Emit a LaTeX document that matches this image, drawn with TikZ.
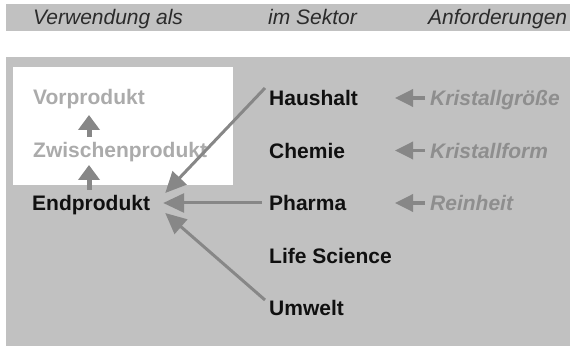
\documentclass[tikz,border=0pt]{standalone}
\usepackage{fontspec}
\setmainfont{Liberation Sans}
\usetikzlibrary{arrows.meta}
\definecolor{bggray}{HTML}{C1C1C1}
\definecolor{hdrtext}{HTML}{2B2B2B}
\definecolor{maintext}{HTML}{101010}
\definecolor{lighttext}{HTML}{ABABAB}
\definecolor{reqtext}{HTML}{8E8E8E}
\definecolor{arrowgray}{HTML}{878787}
\tikzset{
  lbl/.style={anchor=base west, inner sep=0pt, font=\fontsize{21}{24}\selectfont},
  hdr/.style={lbl, font=\fontsize{21}{24}\selectfont\itshape, text=hdrtext},
  sector/.style={lbl, font=\fontsize{21}{24}\selectfont\bfseries, text=maintext},
  stage/.style={lbl, font=\fontsize{21}{24}\selectfont\bfseries, text=lighttext},
  req/.style={lbl, font=\fontsize{21}{24}\selectfont\bfseries\itshape, text=reqtext},
  uparrow/.style={draw=arrowgray, line width=5pt, -{Triangle[width=21pt,length=15pt]}},
  sarrow/.style={draw=arrowgray, line width=3pt, -{Triangle[width=19pt,length=21pt]}},
  rarrow/.style={draw=arrowgray, line width=3.5pt, -{Triangle[width=17pt,length=18pt]}}
}
\begin{document}
\begin{tikzpicture}[x=1pt,y=-1pt]
\useasboundingbox (0,0) rectangle (570,347);
\fill[white] (0,0) rectangle (570,347);
% header band
\fill[bggray] (6,4) rectangle (570,31);
% main panel
\fill[bggray] (6,57) rectangle (570,346);
\fill[white] (13,67) rectangle (233,185);
% headers
\node[hdr] (h1) at (33,25) {Verwendung als};
\node[hdr] (h2) at (268,25) {im Sektor};
\node[hdr] (h3) at (428,25) {Anforderungen};
% stages
\node[stage] (vor) at (33,105) {Vorprodukt};
\node[stage] (zw) at (33,158) {Zwischenprodukt};
\node[sector] (endp) at (32,211) {Endprodukt};
% sectors
\node[sector] (haus) at (269,106) {Haushalt};
\node[sector] (chem) at (269,158.5) {Chemie};
\node[sector] (pharma) at (269,211) {Pharma};
\node[sector] (life) at (269,263.5) {Life Science};
\node[sector] (umw) at (269,316) {Umwelt};
% requirements
\node[req] (kg) at (430,106) {Kristallgröße};
\node[req] (kf) at (430,158.5) {Kristallform};
\node[req] (rein) at (430,211) {Reinheit};
% up arrows
\draw[uparrow] ([shift={(56,-21)}]zw.base west) -- ([shift={(56,10)}]vor.base west);
\draw[uparrow] ([shift={(57,-21)}]endp.base west) -- ([shift={(56,7)}]zw.base west);
% sector arrows
\draw[sarrow] ([shift={(-4,-18)}]haus.base west) -- ([shift={(15,-18)}]endp.base east);
\draw[sarrow] ([shift={(-7,-8)}]pharma.base west) -- ([shift={(13,-8)}]endp.base east);
\draw[sarrow] ([shift={(-4,-16)}]umw.base west) -- ([shift={(15,2)}]endp.base east);
% requirement arrows
\draw[rarrow] ([shift={(-5,-8)}]kg.base west) -- ([shift={(-35,-8)}]kg.base west);
\draw[rarrow] ([shift={(-5,-8)}]kf.base west) -- ([shift={(-35,-8)}]kf.base west);
\draw[rarrow] ([shift={(-5,-8)}]rein.base west) -- ([shift={(-35,-8)}]rein.base west);
\end{tikzpicture}
\end{document}
